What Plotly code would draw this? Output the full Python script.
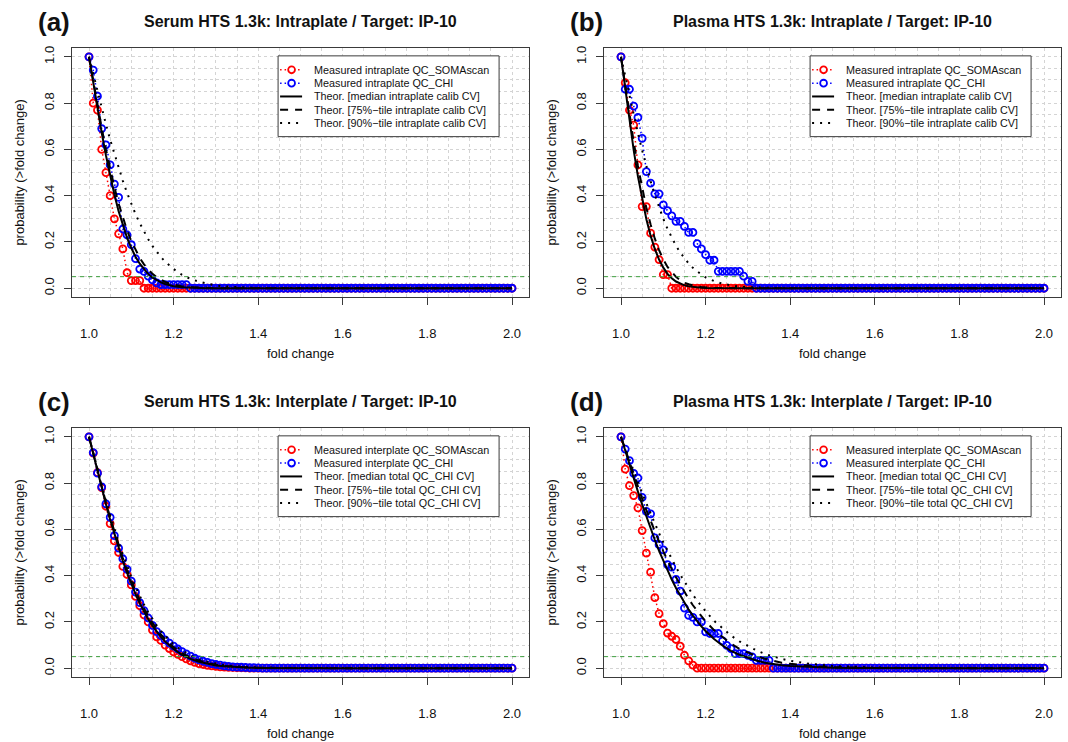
import plotly.graph_objects as go

W, H = 1068, 742
FONT = "Liberation Sans, Arial, Helvetica, sans-serif"

# ---- data -----------------------------------------------------------------
FOLD = [round(1 + i / 100, 2) for i in range(101)]

THEORY_FOLD = [1.00, 1.01, 1.02, 1.03, 1.04, 1.05, 1.06, 1.07, 1.08, 1.09, 1.10,
               1.11, 1.12, 1.13, 1.14, 1.15, 1.16, 1.17, 1.18, 1.19, 1.20,
               1.22, 1.24, 1.26, 1.28, 1.30, 1.32, 1.34, 1.36, 1.38, 1.40,
               1.45, 1.50, 1.55, 1.60, 1.70, 1.80, 1.90, 2.00]

# (a) Serum, intraplate
SERUM_INTRA_SOMA = [1.0, 0.80, 0.77, 0.60, 0.50, 0.40, 0.30, 0.235, 0.17, 0.067,
                    0.033, 0.033, 0.033] + [0.0] * 88
SERUM_INTRA_CHI = [1.0, 0.943, 0.83, 0.69, 0.62, 0.533, 0.45, 0.393, 0.256, 0.23,
                   0.188, 0.128, 0.083, 0.073, 0.052, 0.036, 0.023, 0.016, 0.016,
                   0.016, 0.016, 0.016, 0.016, 0.016] + [0.0] * 77
SERUM_INTRA_MED = [1.0, 0.887, 0.777, 0.672, 0.575, 0.486, 0.405, 0.333, 0.271, 0.218,
                   0.174, 0.136, 0.106, 0.081, 0.061, 0.046, 0.034, 0.025, 0.018,
                   0.013, 0.009, 0.0045, 0.002, 0.001, 0.0, 0.0, 0.0, 0.0, 0.0, 0.0,
                   0.0, 0.0, 0.0, 0.0, 0.0, 0.0, 0.0, 0.0, 0.0]
SERUM_INTRA_P75 = [1.0, 0.894, 0.792, 0.693, 0.601, 0.515, 0.437, 0.366, 0.305, 0.250,
                   0.204, 0.164, 0.131, 0.103, 0.081, 0.062, 0.048, 0.036, 0.027,
                   0.020, 0.015, 0.008, 0.004, 0.002, 0.001, 0.0, 0.0, 0.0, 0.0, 0.0,
                   0.0, 0.0, 0.0, 0.0, 0.0, 0.0, 0.0, 0.0, 0.0]
SERUM_INTRA_P90 = [1.0, 0.924, 0.850, 0.778, 0.709, 0.642, 0.579, 0.519, 0.464, 0.412,
                   0.364, 0.320, 0.281, 0.245, 0.212, 0.183, 0.158, 0.135, 0.115,
                   0.098, 0.083, 0.058, 0.040, 0.028, 0.019, 0.012, 0.008, 0.005,
                   0.0034, 0.002, 0.0014, 0.0004, 0.0, 0.0, 0.0, 0.0, 0.0, 0.0, 0.0]

# (b) Plasma, intraplate
PLASMA_INTRA_SOMA = [1.0, 0.888, 0.77, 0.705, 0.533, 0.353, 0.353, 0.238, 0.178, 0.124,
                     0.059, 0.059] + [0.0] * 89
PLASMA_INTRA_CHI = [1.0, 0.86, 0.86, 0.787, 0.738, 0.648, 0.504, 0.454, 0.408, 0.408,
                    0.36, 0.335, 0.313, 0.289, 0.289, 0.267, 0.241, 0.241, 0.193, 0.17,
                    0.145, 0.121, 0.121, 0.073, 0.073, 0.073, 0.073, 0.073, 0.073,
                    0.052, 0.030, 0.030] + [0.0] * 69
PLASMA_INTRA_MED = [1.0, 0.859, 0.723, 0.597, 0.484, 0.384, 0.298, 0.227, 0.169, 0.124,
                    0.089, 0.062, 0.043, 0.029, 0.019, 0.0126, 0.008, 0.005, 0.003,
                    0.002, 0.001, 0.0004, 0.0, 0.0, 0.0, 0.0, 0.0, 0.0, 0.0, 0.0,
                    0.0, 0.0, 0.0, 0.0, 0.0, 0.0, 0.0, 0.0, 0.0]
PLASMA_INTRA_P75 = [1.0, 0.873, 0.750, 0.633, 0.527, 0.431, 0.347, 0.275, 0.214, 0.165,
                    0.124, 0.092, 0.068, 0.049, 0.035, 0.024, 0.017, 0.011, 0.008,
                    0.005, 0.003, 0.0013, 0.0005, 0.0, 0.0, 0.0, 0.0, 0.0, 0.0, 0.0,
                    0.0, 0.0, 0.0, 0.0, 0.0, 0.0, 0.0, 0.0, 0.0]
PLASMA_INTRA_P90 = [1.0, 0.914, 0.830, 0.748, 0.670, 0.596, 0.526, 0.462, 0.403, 0.349,
                    0.300, 0.256, 0.218, 0.184, 0.154, 0.129, 0.107, 0.088, 0.072,
                    0.059, 0.047, 0.031, 0.019, 0.012, 0.007, 0.0043, 0.0026, 0.0015,
                    0.0008, 0.0004, 0.0002, 0.0, 0.0, 0.0, 0.0, 0.0, 0.0, 0.0, 0.0]

# (c) Serum, interplate
SERUM_INTER_SOMA = [1.0, 0.93, 0.845, 0.78, 0.70, 0.625, 0.55, 0.50, 0.44, 0.405,
                    0.36, 0.31, 0.27, 0.23, 0.20, 0.165, 0.135, 0.12, 0.10, 0.085,
                    0.07, 0.06, 0.05, 0.04, 0.032, 0.025, 0.02, 0.016, 0.012, 0.01,
                    0.008, 0.006, 0.005, 0.004, 0.003, 0.002, 0.002, 0.001] + [0.0] * 63
SERUM_INTER_CHI = [1.0, 0.932, 0.843, 0.784, 0.71, 0.652, 0.573, 0.519, 0.473, 0.427,
                   0.376, 0.329, 0.283, 0.249, 0.217, 0.185, 0.158, 0.142, 0.122, 0.108,
                   0.095, 0.083, 0.072, 0.062, 0.052, 0.043, 0.036, 0.030, 0.025, 0.020,
                   0.016, 0.013, 0.010, 0.008, 0.006, 0.005, 0.004, 0.003, 0.002,
                   0.002, 0.001] + [0.0] * 60
SERUM_INTER_MED = [1.0, 0.924, 0.850, 0.778, 0.709, 0.642, 0.579, 0.519, 0.464, 0.412,
                   0.364, 0.320, 0.281, 0.245, 0.212, 0.183, 0.158, 0.135, 0.115,
                   0.098, 0.083, 0.058, 0.040, 0.028, 0.019, 0.012, 0.008, 0.005,
                   0.0034, 0.002, 0.0014, 0.0004, 0.0, 0.0, 0.0, 0.0, 0.0, 0.0, 0.0]
SERUM_INTER_P75 = [1.0, 0.927, 0.855, 0.784, 0.717, 0.651, 0.589, 0.531, 0.476, 0.425,
                   0.378, 0.334, 0.294, 0.258, 0.225, 0.196, 0.170, 0.146, 0.125,
                   0.107, 0.091, 0.065, 0.046, 0.032, 0.022, 0.015, 0.010, 0.0067,
                   0.0044, 0.0029, 0.0018, 0.0006, 0.0002, 0.0, 0.0, 0.0, 0.0, 0.0, 0.0]
SERUM_INTER_P90 = [1.0, 0.929, 0.860, 0.792, 0.726, 0.663, 0.602, 0.546, 0.492, 0.441,
                   0.395, 0.351, 0.311, 0.275, 0.242, 0.212, 0.185, 0.161, 0.139,
                   0.120, 0.104, 0.076, 0.055, 0.039, 0.028, 0.019, 0.013, 0.009,
                   0.006, 0.004, 0.0027, 0.0009, 0.0003, 0.0, 0.0, 0.0, 0.0, 0.0, 0.0]

# (d) Plasma, interplate
PLASMA_INTER_SOMA = [1.0, 0.86, 0.789, 0.746, 0.693, 0.595, 0.497, 0.415, 0.305, 0.236,
                     0.193, 0.152, 0.138, 0.124, 0.095, 0.056, 0.032, 0.013] + [0.0] * 83
PLASMA_INTER_CHI = [1.0, 0.947, 0.897, 0.842, 0.822, 0.738, 0.678, 0.667, 0.563, 0.534,
                    0.511, 0.448, 0.437, 0.384, 0.333, 0.26, 0.228, 0.22, 0.20, 0.20,
                    0.157, 0.15, 0.15, 0.15, 0.118, 0.099, 0.085, 0.063, 0.063, 0.063,
                    0.055, 0.049, 0.034, 0.034, 0.034, 0.034] + [0.0] * 65
PLASMA_INTER_MED = [1.0, 0.939, 0.879, 0.820, 0.763, 0.708, 0.654, 0.602, 0.554, 0.507,
                    0.464, 0.422, 0.383, 0.347, 0.314, 0.282, 0.253, 0.227, 0.203,
                    0.181, 0.161, 0.126, 0.098, 0.075, 0.058, 0.044, 0.033, 0.024,
                    0.018, 0.013, 0.0097, 0.0043, 0.0018, 0.0008, 0.0003, 0.0, 0.0,
                    0.0, 0.0]
PLASMA_INTER_P75 = [1.0, 0.945, 0.890, 0.836, 0.784, 0.733, 0.683, 0.636, 0.590, 0.547,
                    0.505, 0.465, 0.428, 0.393, 0.360, 0.328, 0.299, 0.272, 0.247,
                    0.224, 0.202, 0.164, 0.133, 0.106, 0.084, 0.067, 0.052, 0.041,
                    0.032, 0.024, 0.019, 0.0094, 0.0046, 0.0022, 0.001, 0.0002, 0.0,
                    0.0, 0.0]
PLASMA_INTER_P90 = [1.0, 0.949, 0.900, 0.850, 0.803, 0.756, 0.711, 0.666, 0.624, 0.583,
                    0.544, 0.506, 0.470, 0.437, 0.404, 0.373, 0.345, 0.317, 0.292,
                    0.268, 0.246, 0.205, 0.171, 0.141, 0.116, 0.095, 0.077, 0.062,
                    0.050, 0.040, 0.032, 0.018, 0.0098, 0.0052, 0.0028, 0.0007,
                    0.0002, 0.0, 0.0]

ALPHA_LINE = 0.05

X_TICKS = [1.0, 1.2, 1.4, 1.6, 1.8, 2.0]
Y_TICKS = [0.0, 0.2, 0.4, 0.6, 0.8, 1.0]

INTRA_LABELS = ["Measured intraplate QC_SOMAscan", "Measured intraplate QC_CHI",
                "Theor. [median intraplate calib CV]",
                "Theor. [75%\u2212tile intraplate calib CV]",
                "Theor. [90%\u2212tile intraplate calib CV]"]
INTER_LABELS = ["Measured interplate QC_SOMAscan", "Measured interplate QC_CHI",
                "Theor. [median total QC_CHI CV]",
                "Theor. [75%\u2212tile total QC_CHI CV]",
                "Theor. [90%\u2212tile total QC_CHI CV]"]

PANELS = [
    dict(tag="(a)", title="Serum HTS 1.3k: Intraplate / Target: IP-10", labels=INTRA_LABELS,
         soma=SERUM_INTRA_SOMA, chi=SERUM_INTRA_CHI,
         theory=[SERUM_INTRA_MED, SERUM_INTRA_P75, SERUM_INTRA_P90], col=0, row=0),
    dict(tag="(b)", title="Plasma HTS 1.3k: Intraplate / Target: IP-10", labels=INTRA_LABELS,
         soma=PLASMA_INTRA_SOMA, chi=PLASMA_INTRA_CHI,
         theory=[PLASMA_INTRA_MED, PLASMA_INTRA_P75, PLASMA_INTRA_P90], col=1, row=0),
    dict(tag="(c)", title="Serum HTS 1.3k: Interplate / Target: IP-10", labels=INTER_LABELS,
         soma=SERUM_INTER_SOMA, chi=SERUM_INTER_CHI,
         theory=[SERUM_INTER_MED, SERUM_INTER_P75, SERUM_INTER_P90], col=0, row=1),
    dict(tag="(d)", title="Plasma HTS 1.3k: Interplate / Target: IP-10", labels=INTER_LABELS,
         soma=PLASMA_INTER_SOMA, chi=PLASMA_INTER_CHI,
         theory=[PLASMA_INTER_MED, PLASMA_INTER_P75, PLASMA_INTER_P90], col=1, row=1),
]

# ---- styling ---------------------------------------------------------------
RED, BLUE, BLACK = "#ff0000", "#0000ff", "#000000"
GREEN = "#3c9f3c"
GRID = "#d4d4d4"
AXIS = "#3a3a3a"
TEXT = "#111111"
MEAS_DASH = "1.5px,3px"
THEORY_DASH = ["solid", "8px,7px", "2px,6px"]

# plot boxes in pixels (left, right) / (top, bottom)
COL_PX = [(72.08, 528.92), (604.08, 1060.92)]
ROW_PX = [(45.72, 296.28), (426.72, 677.28)]


def px(x):
    return x / W


def py(y):
    return 1 - y / H


fig = go.Figure()
annotations = []
shapes = []

for i, p in enumerate(PANELS):
    n = "" if i == 0 else str(i + 1)
    xa, ya = "x" + n, "y" + n
    (l, r), (t, b) = COL_PX[p["col"]], ROW_PX[p["row"]]

    fig.add_trace(go.Scatter(
        x=FOLD, y=p["soma"], xaxis=xa, yaxis=ya, mode="lines+markers",
        line=dict(color=RED, width=1.5, dash=MEAS_DASH),
        marker=dict(symbol="circle-open", size=7, color=RED, line=dict(width=1.8, color=RED)),
        showlegend=False, hoverinfo="skip"))
    fig.add_trace(go.Scatter(
        x=FOLD, y=p["chi"], xaxis=xa, yaxis=ya, mode="lines+markers",
        line=dict(color=BLUE, width=1.5, dash=MEAS_DASH),
        marker=dict(symbol="circle-open", size=7, color=BLUE, line=dict(width=1.8, color=BLUE)),
        showlegend=False, hoverinfo="skip"))
    for vals, dash in zip(p["theory"], THEORY_DASH):
        fig.add_trace(go.Scatter(
            x=THEORY_FOLD, y=vals, xaxis=xa, yaxis=ya, mode="lines",
            line=dict(color=BLACK, width=2, dash=dash),
            showlegend=False, hoverinfo="skip"))

    axis_common = dict(
        showline=True, mirror=True, linecolor=AXIS, linewidth=1,
        ticks="outside", ticklen=7, tickwidth=1, tickcolor=AXIS,
        tickfont=dict(family=FONT, size=13, color=TEXT),
        showgrid=True, gridcolor=GRID, griddash="dot", gridwidth=1,
        zeroline=False, fixedrange=True, tickformat=".1f",
    )
    fig.layout["xaxis" + n] = dict(
        axis_common, domain=[px(l), px(r)], range=[0.96, 2.04], anchor=ya,
        tickvals=X_TICKS, ticklabelstandoff=17,
        minor=dict(tick0=1.0, dtick=0.05, showgrid=True, gridcolor=GRID,
                   griddash="dot", gridwidth=1, ticks=""))
    fig.layout["yaxis" + n] = dict(
        axis_common, domain=[py(b), py(t)], range=[-0.04, 1.04], anchor=xa,
        tickvals=Y_TICKS, tickangle=-90, ticklabelstandoff=5,
        minor=dict(tick0=0.0, dtick=0.05, showgrid=True, gridcolor=GRID,
                   griddash="dot", gridwidth=1, ticks=""))

    # 5 % reference level
    shapes.append(dict(type="line", xref=xa + " domain", yref=ya, x0=0, x1=1,
                       y0=ALPHA_LINE, y1=ALPHA_LINE, layer="above",
                       line=dict(color=GREEN, width=1, dash="4px,4px")))

    # titles and axis labels
    cx = (l + r) / 2
    annotations += [
        dict(text="<b>" + p["tag"] + "</b>", x=px(l - 18), y=py(t - 26), xref="paper",
             yref="paper", showarrow=False, xanchor="center", yanchor="middle",
             font=dict(family=FONT, size=26, color=TEXT)),
        dict(text="<b>" + p["title"] + "</b>", x=px(cx), y=py(t - 26.5), xref="paper",
             yref="paper", showarrow=False, xanchor="center", yanchor="middle",
             font=dict(family=FONT, size=16, color=TEXT)),
        dict(text="fold change", x=px(cx), y=py(b + 56), xref="paper", yref="paper",
             showarrow=False, xanchor="center", yanchor="middle",
             font=dict(family=FONT, size=13, color=TEXT)),
        dict(text="probability (>fold change)", x=px(l - 53), y=py((t + b) / 2),
             xref="paper", yref="paper", showarrow=False, textangle=-90,
             xanchor="center", yanchor="middle",
             font=dict(family=FONT, size=13, color=TEXT)),
    ]

    # legend box
    lg_l, lg_t = l + 206, t + 8.3
    lg_w, lg_h = 221, 81
    shapes.append(dict(type="rect", xref="paper", yref="paper",
                       x0=px(lg_l), x1=px(lg_l + lg_w), y0=py(lg_t + lg_h), y1=py(lg_t),
                       fillcolor="white", line=dict(color=AXIS, width=1), layer="above"))
    styles = [(RED, MEAS_DASH, True), (BLUE, MEAS_DASH, True),
              (BLACK, THEORY_DASH[0], False), (BLACK, THEORY_DASH[1], False),
              (BLACK, THEORY_DASH[2], False)]
    for k, (label, (col, dash, has_marker)) in enumerate(zip(p["labels"], styles)):
        ry = lg_t + 14 + 13.35 * k
        shapes.append(dict(type="line", xref="paper", yref="paper",
                           x0=px(lg_l + 2), x1=px(lg_l + 24), y0=py(ry), y1=py(ry),
                           layer="above",
                           line=dict(color=col, width=1.5 if has_marker else 2, dash=dash)))
        if has_marker:
            mx = lg_l + 13.5
            shapes.append(dict(type="circle", xref="paper", yref="paper",
                               x0=px(mx - 3.4), x1=px(mx + 3.4),
                               y0=py(ry + 3.4), y1=py(ry - 3.4), layer="above",
                               fillcolor="white", line=dict(color=col, width=1.8)))
        annotations.append(dict(text=label, x=px(lg_l + 34), y=py(ry), xref="paper",
                                yref="paper", showarrow=False, xanchor="left",
                                yanchor="middle",
                                font=dict(family=FONT, size=10.8, color=TEXT)))

fig.update_layout(
    width=W, height=H, margin=dict(l=0, r=0, t=0, b=0),
    paper_bgcolor="white", plot_bgcolor="white", showlegend=False,
    annotations=annotations, shapes=shapes,
    font=dict(family=FONT, color=TEXT),
)

fig.write_html("out.html")
